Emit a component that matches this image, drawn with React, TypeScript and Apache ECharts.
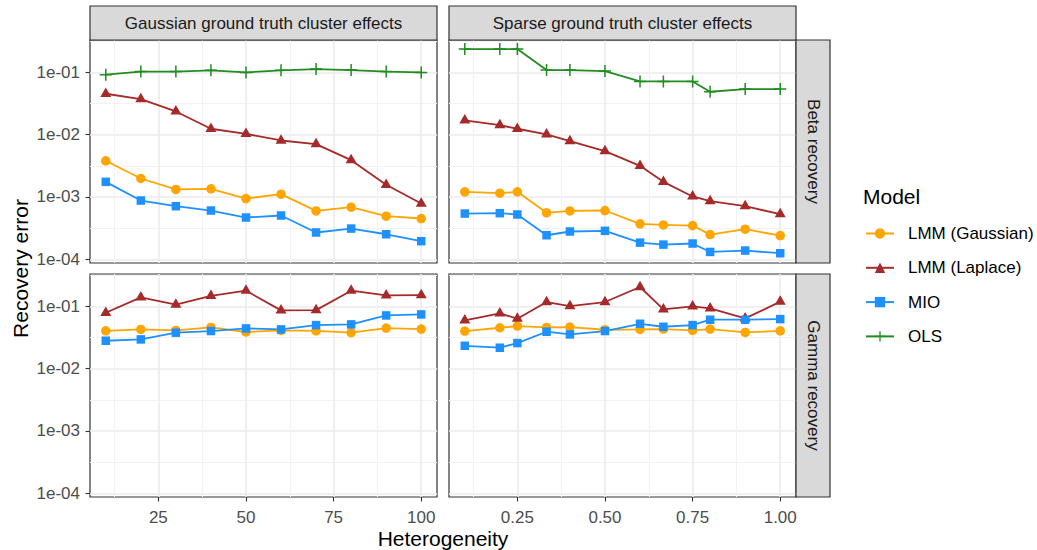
import React, { useEffect, useRef } from 'react';
import * as echarts from 'echarts';

// ---------- data ----------
const models = ['LMM (Gaussian)', 'LMM (Laplace)', 'MIO', 'OLS'];
const modelColors = ['#FFA500', '#A52A2A', '#1E90FF', '#228B22'];

const colFacets = ['Gaussian ground truth cluster effects', 'Sparse ground truth cluster effects'];
const rowFacets = ['Beta recovery', 'Gamma recovery'];

const xGaussian = [10, 20, 30, 40, 50, 60, 70, 80, 90, 100];
const xSparse = [0.1, 0.2, 0.25, 1 / 3, 0.4, 0.5, 0.6, 2 / 3, 0.75, 0.8, 0.9, 1.0];

// Beta recovery / Gaussian
const betaGaussLmmG = [0.00381, 0.00198, 0.00132, 0.00135, 0.000944, 0.00111, 0.000598, 0.000685, 0.000491, 0.000451];
const betaGaussLmmL = [0.0454, 0.0373, 0.0236, 0.01245, 0.0103, 0.00807, 0.00705, 0.0039, 0.00157, 0.000785];
const betaGaussMio = [0.00175, 0.000877, 0.000711, 0.000606, 0.000468, 0.000504, 0.000269, 0.000311, 0.000252, 0.000195];
const betaGaussOls = [0.092, 0.103, 0.103, 0.108, 0.1, 0.108, 0.113, 0.109, 0.103, 0.1];

// Beta recovery / Sparse
const betaSparseLmmG = [0.00121, 0.00115, 0.00121, 0.000556, 0.000598, 0.000606, 0.00037, 0.000356, 0.000348, 0.000249, 0.000304, 0.00024];
const betaSparseLmmL = [0.01694, 0.01426, 0.01245, 0.0101, 0.00788, 0.00545, 0.00316, 0.00175, 0.00102, 0.000857, 0.000711, 0.00053];
const betaSparseMio = [0.000542, 0.000549, 0.000523, 0.000243, 0.000279, 0.000286, 0.000185, 0.000172, 0.000179, 0.000131, 0.000138, 0.000125];
const betaSparseOls = [0.237, 0.237, 0.237, 0.109, 0.109, 0.105, 0.0716, 0.0716, 0.0716, 0.0489, 0.0539, 0.0539];

// Gamma recovery / Gaussian
const gammaGaussLmmG = [0.0406, 0.0427, 0.0411, 0.046, 0.0388, 0.0411, 0.0406, 0.0378, 0.0449, 0.0432];
const gammaGaussLmmL = [0.079, 0.1396, 0.1064, 0.148, 0.1787, 0.0862, 0.087, 0.1787, 0.15, 0.152];
const gammaGaussMio = [0.0281, 0.0295, 0.0378, 0.0402, 0.0443, 0.0427, 0.0501, 0.0514, 0.0716, 0.0743];

// Gamma recovery / Sparse
const gammaSparseLmmG = [0.0402, 0.0454, 0.0483, 0.046, 0.0466, 0.0422, 0.0427, 0.0432, 0.0411, 0.0432, 0.0382, 0.0406];
const gammaSparseLmmL = [0.0596, 0.0772, 0.0634, 0.1175, 0.1012, 0.1175, 0.2046, 0.0895, 0.1, 0.0929, 0.0641, 0.119];
const gammaSparseMio = [0.0233, 0.0217, 0.0258, 0.0392, 0.0355, 0.0402, 0.0526, 0.0471, 0.0501, 0.0611, 0.0611, 0.0625];

// tick values
const yMajorTicks = [1e-4, 1e-3, 1e-2, 1e-1];
const yMinorTicks = [Math.pow(10, -3.5), Math.pow(10, -2.5), Math.pow(10, -1.5), Math.pow(10, -0.5)];
const xGaussMajor = [25, 50, 75, 100];
const xGaussMinor = [12.5, 37.5, 62.5, 87.5];
const xSparseMajor = [0.25, 0.5, 0.75, 1.0];
const xSparseMinor = [0.125, 0.375, 0.625, 0.875];

// ---------- layout ----------
const FONT = '"Liberation Sans", Arial, Helvetica, sans-serif';
const PW = 347;
const PH = 223;
const LEFTS = [90, 449];
const TOPS = [40, 274];
const YMIN = Math.pow(10, -4.06);
const YMAX = Math.pow(10, -0.48);
const XRANGE = [
  [5.5, 104.5],
  [0.055, 1.045],
];

const PLUS = 'path://M8.75,0 h2.5 v8.75 h8.75 v2.5 h-8.75 v8.75 h-2.5 v-8.75 h-8.75 v-2.5 h8.75 z';

const symbolFor = (m: number) => {
  if (m === 0) return { symbol: 'circle', symbolSize: 9.5 };
  if (m === 1) return { symbol: 'triangle', symbolSize: [11, 9.5], symbolOffset: [0, -1.6] };
  if (m === 2) return { symbol: 'rect', symbolSize: 8.5 };
  return { symbol: PLUS, symbolSize: 12 };
};

export default function App() {
  const ref = useRef<HTMLDivElement>(null);

  useEffect(() => {
    if (!ref.current) return;
    const chart = echarts.init(ref.current, undefined, { renderer: 'svg' });

    const panels = [
      { grid: 0, col: 0, xs: xGaussian, series: [betaGaussLmmG, betaGaussLmmL, betaGaussMio, betaGaussOls] },
      { grid: 1, col: 1, xs: xSparse, series: [betaSparseLmmG, betaSparseLmmL, betaSparseMio, betaSparseOls] },
      { grid: 2, col: 0, xs: xGaussian, series: [gammaGaussLmmG, gammaGaussLmmL, gammaGaussMio] },
      { grid: 3, col: 1, xs: xSparse, series: [gammaSparseLmmG, gammaSparseLmmL, gammaSparseMio] },
    ];

    const grids: any[] = [];
    const xAxes: any[] = [];
    const yAxes: any[] = [];
    for (let r = 0; r < 2; r++) {
      for (let c = 0; c < 2; c++) {
        grids.push({
          left: LEFTS[c],
          top: TOPS[r],
          width: PW,
          height: PH,
          show: true,
          backgroundColor: '#ffffff',
          borderColor: '#333333',
          borderWidth: 1.2,
          containLabel: false,
          outerBoundsMode: 'none',
        });
      }
    }
    const yFmt = (v: number) => {
      const e = Math.round(Math.log10(v));
      return '1e-' + String(Math.abs(e)).padStart(2, '0');
    };
    const xFmt = (c: number) => (v: number) => (c === 0 ? String(Math.round(v)) : v.toFixed(2));

    // major axes (index 0..3), minor axes (index 4..7)
    for (let pass = 0; pass < 2; pass++) {
      const minor = pass === 1;
      for (let g = 0; g < 4; g++) {
        const r = Math.floor(g / 2);
        const c = g % 2;
        const showX = !minor && r === 1;
        const showY = !minor && c === 0;
        xAxes.push({
          type: 'value',
          gridIndex: g,
          min: XRANGE[c][0],
          max: XRANGE[c][1],
          axisLine: { show: false },
          axisTick: {
            show: showX,
            customValues: minor ? (c === 0 ? xGaussMinor : xSparseMinor) : c === 0 ? xGaussMajor : xSparseMajor,
            length: 4.5,
            lineStyle: { color: '#333333', width: 1.1 },
          },
          axisLabel: {
            show: showX,
            customValues: c === 0 ? xGaussMajor : xSparseMajor,
            formatter: xFmt(c),
            fontSize: 17,
            fontFamily: FONT,
            color: '#4d4d4d',
            margin: 12,
          },
          splitLine: {
            show: true,
            lineStyle: { color: minor ? '#f2f2f2' : '#ebebeb', width: minor ? 1 : 1.6 },
          },
        });
        yAxes.push({
          type: 'log',
          logBase: 10,
          gridIndex: g,
          min: YMIN,
          max: YMAX,
          axisLine: { show: false },
          axisTick: {
            show: showY,
            customValues: minor ? yMinorTicks : yMajorTicks,
            length: 4.5,
            lineStyle: { color: '#333333', width: 1.1 },
          },
          axisLabel: {
            show: showY,
            customValues: yMajorTicks,
            formatter: yFmt,
            fontSize: 17,
            fontFamily: FONT,
            color: '#4d4d4d',
            margin: 10,
          },
          splitLine: {
            show: true,
            lineStyle: { color: minor ? '#f2f2f2' : '#ebebeb', width: minor ? 1 : 1.6 },
          },
        });
      }
    }

    const series: any[] = [];
    panels.forEach((p) => {
      p.series.forEach((vals, m) => {
        series.push({
          type: 'line',
          name: models[m],
          xAxisIndex: p.grid,
          yAxisIndex: p.grid,
          data: p.xs.map((x, i) => [x, vals[i]]),
          ...symbolFor(m),
          showSymbol: true,
          color: modelColors[m],
          itemStyle: { color: modelColors[m], opacity: 1 },
          lineStyle: { color: modelColors[m], width: 1.8 },
          z: 3,
          silent: true,
        });
      });
    });

    const strips: any[] = [];
    colFacets.forEach((t, c) => {
      strips.push({
        type: 'rect',
        shape: { x: LEFTS[c], y: 6, width: PW, height: 34 },
        style: { fill: '#d9d9d9', stroke: '#333333', lineWidth: 1.2 },
        z: 10,
      });
      strips.push({
        type: 'text',
        x: LEFTS[c] + PW / 2,
        y: 23,
        style: {
          text: t,
          fontSize: 17,
          fontFamily: FONT,
          fill: '#1a1a1a',
          align: 'center',
          verticalAlign: 'middle',
        },
        z: 11,
      });
    });
    rowFacets.forEach((t, r) => {
      strips.push({
        type: 'rect',
        shape: { x: LEFTS[1] + PW, y: TOPS[r], width: 34, height: PH },
        style: { fill: '#d9d9d9', stroke: '#333333', lineWidth: 1.2 },
        z: 10,
      });
      strips.push({
        type: 'text',
        x: LEFTS[1] + PW + 17,
        y: TOPS[r] + PH / 2,
        rotation: -Math.PI / 2,
        style: {
          text: t,
          fontSize: 17,
          fontFamily: FONT,
          fill: '#1a1a1a',
          align: 'center',
          verticalAlign: 'middle',
        },
        z: 11,
      });
    });

    const titles: any[] = [
      {
        type: 'text',
        x: 20,
        y: (TOPS[0] + TOPS[1] + PH) / 2,
        rotation: Math.PI / 2,
        style: {
          text: 'Recovery error',
          fontSize: 21,
          fontFamily: FONT,
          fill: '#000000',
          align: 'center',
          verticalAlign: 'middle',
        },
      },
      {
        type: 'text',
        x: (LEFTS[0] + LEFTS[1] + PW) / 2,
        y: 538,
        style: {
          text: 'Heterogeneity',
          fontSize: 21,
          fontFamily: FONT,
          fill: '#000000',
          align: 'center',
          verticalAlign: 'middle',
        },
      },
      {
        type: 'text',
        x: 863,
        y: 196,
        style: {
          text: 'Model',
          fontSize: 21,
          fontFamily: FONT,
          fill: '#000000',
          align: 'left',
          verticalAlign: 'middle',
        },
      },
    ];

    chart.setOption({
      animation: false,
      textStyle: { fontFamily: FONT },
      grid: grids,
      xAxis: xAxes,
      yAxis: yAxes,
      series,
      legend: {
        show: true,
        data: models,
        orient: 'vertical',
        left: 865,
        top: 225,
        padding: 0,
        itemWidth: 28,
        itemHeight: 13,
        itemGap: 17.3,
        selectedMode: false,
        textStyle: {
          fontSize: 17,
          fontFamily: FONT,
          color: '#000000',
          lineHeight: 17,
          padding: [0, 0, 0, 9],
        },
      },
      graphic: [...strips, ...titles],
    });

    return () => chart.dispose();
  }, []);

  return (
    <div
      ref={ref}
      style={{ position: 'fixed', left: 0, top: 0, width: 1037, height: 550, background: '#ffffff' }}
    />
  );
}
